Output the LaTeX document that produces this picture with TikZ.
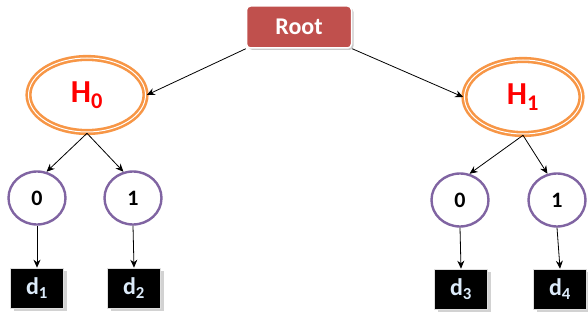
\documentclass[tikz,border=0pt]{standalone}
\usepackage{fontspec}
\setmainfont{Carlito}
\usetikzlibrary{shapes.geometric,arrows.meta,shadows}
\definecolor{rootred}{HTML}{C0504D}
\definecolor{horange}{HTML}{F79646}
\definecolor{leafpurple}{HTML}{8064A2}
\definecolor{dtext}{HTML}{DCEBFA}
\tikzset{
  rootbox/.style={rectangle, rounded corners=4pt, fill=rootred, draw=white, line width=1.5pt,
    minimum width=105pt, minimum height=42pt, text=white, font=\fontsize{24}{28}\selectfont\bfseries,
    drop shadow={shadow xshift=2pt, shadow yshift=-2pt, fill=black!35, opacity=0.6}},
  hnode/.style={ellipse, draw=horange, line width=2.6pt, double=white, double distance=1pt,
    minimum width=117pt, minimum height=74pt, inner sep=0pt, text=red,
    font=\fontsize{32}{36}\selectfont\bfseries},
  bitnode/.style={ellipse, draw=leafpurple, line width=2.4pt, fill=white,
    minimum width=57pt, minimum height=53pt, inner sep=0pt,
    font=\fontsize{22}{24}\selectfont\bfseries},
  leafbox/.style={rectangle, fill=black, draw=gray!25, line width=0.6pt,
    minimum width=53pt, minimum height=40pt, inner sep=0pt, text=dtext,
    font=\fontsize{24}{26}\selectfont\bfseries,
    drop shadow={shadow xshift=3pt, shadow yshift=-3pt, fill=black!25, opacity=0.7}},
  link/.style={draw=black, line width=0.8pt, -{Stealth[length=8pt,width=7pt]}}
}
\begin{document}
\begin{tikzpicture}[x=1pt,y=-1pt]
  \useasboundingbox (0,0) rectangle (588,320);
  % top level
  \node[rootbox] (root) at (299,27) {Root};
  % hash nodes
  \node[hnode] (h0) at (87,95) {H\textsubscript{0}};
  \node[hnode] (h1) at (523,97) {H\textsubscript{1}};
  % bit nodes
  \node[bitnode] (b00) at (37,198) {0};
  \node[bitnode] (b01) at (133,198) {1};
  \node[bitnode] (b10) at (460,200) {0};
  \node[bitnode] (b11) at (557,200) {1};
  % data leaves
  \node[leafbox] (d1) at (37,288) {d\textsubscript{1}};
  \node[leafbox] (d2) at (134,288) {d\textsubscript{2}};
  \node[leafbox] (d3) at (461,289) {d\textsubscript{3}};
  \node[leafbox] (d4) at (560,289) {d\textsubscript{4}};
  % connectors
  \draw[link] (root.south west) -- (h0.east);
  \draw[link] (root.south east) -- (h1.west);
  \draw[link] (h0.south) -- (b00.70);
  \draw[link] (h0.south) -- (b01.110);
  \draw[link] (h1.south) -- (b10.70);
  \draw[link] (h1.south) -- (b11.110);
  \draw[link] (b00.south) -- (d1.north);
  \draw[link] (b01.south) -- (d2.north);
  \draw[link] (b10.south) -- (d3.north);
  \draw[link] (b11.south) -- (d4.north);
\end{tikzpicture}
\end{document}
